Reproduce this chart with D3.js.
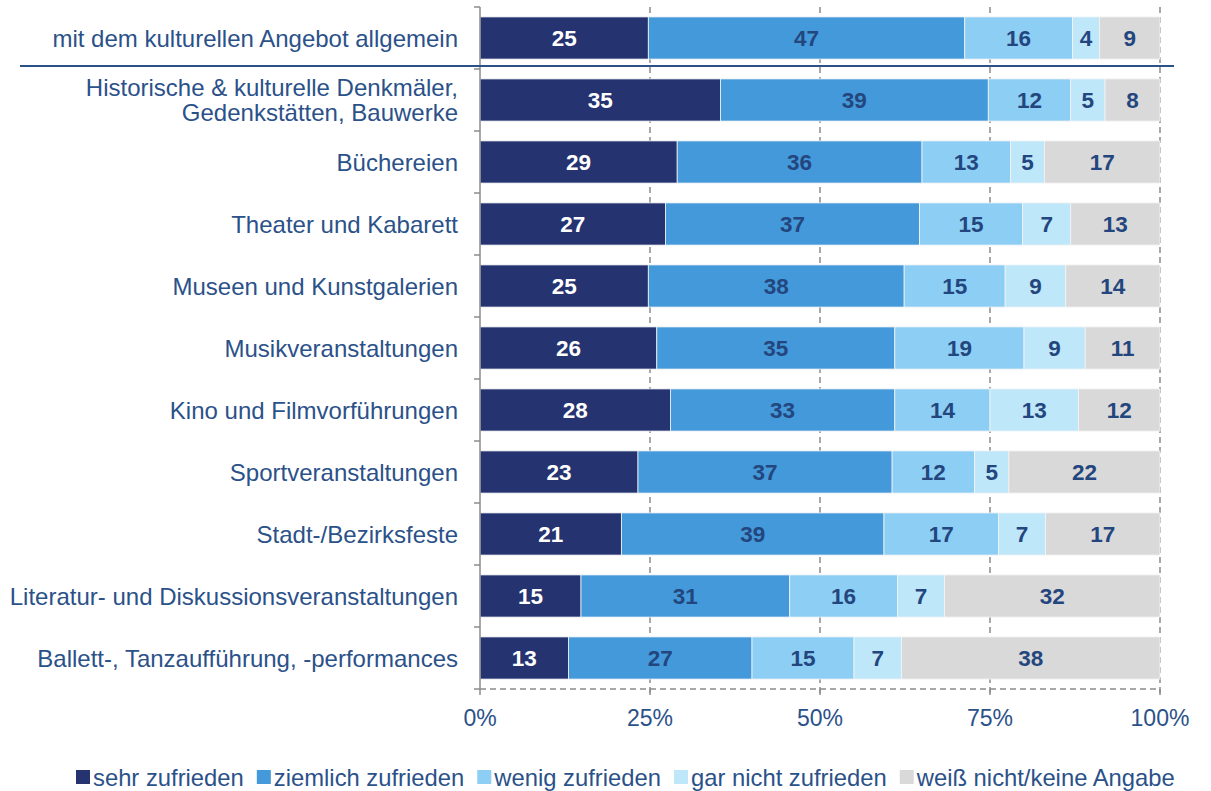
<!doctype html>
<html lang="de">
<head>
<meta charset="UTF-8">
<title>Zufriedenheit Kulturangebot</title>
<script src="https://cdn.jsdelivr.net/npm/d3@7"></script>
<style>
    html, body { margin: 0; padding: 0; background: #fff; overflow: hidden; }
    text { font-family: "Liberation Sans", Arial, sans-serif; }
</style>
</head>
<body>
<svg id="chart" width="1211" height="791"></svg>
<script>
    const categories = [
        "mit dem kulturellen Angebot allgemein",
        "Historische & kulturelle Denkmäler,|Gedenkstätten, Bauwerke",
        "Büchereien",
        "Theater und Kabarett",
        "Museen und Kunstgalerien",
        "Musikveranstaltungen",
        "Kino und Filmvorführungen",
        "Sportveranstaltungen",
        "Stadt-/Bezirksfeste",
        "Literatur- und Diskussionsveranstaltungen",
        "Ballett-, Tanzaufführung, -performances"
    ];
    const seriesNames = ["sehr zufrieden", "ziemlich zufrieden", "wenig zufrieden", "gar nicht zufrieden", "weiß nicht/keine Angabe"];
    const sehr = [25, 35, 29, 27, 25, 26, 28, 23, 21, 15, 13];
    const ziemlich = [47, 39, 36, 37, 38, 35, 33, 37, 39, 31, 27];
    const wenig = [16, 12, 13, 15, 15, 19, 14, 12, 17, 16, 15];
    const garNicht = [4, 5, 5, 7, 9, 9, 13, 5, 7, 7, 7];
    const weissNicht = [9, 8, 17, 13, 14, 11, 12, 22, 17, 32, 38];
    const tickLabels = ["0%", "25%", "50%", "75%", "100%"];

    const colors = ["#253370", "#4499DA", "#8DCEF4", "#BEE7FA", "#D9D9D9"];
    const labelColors = ["#ffffff", "#23467E", "#23467E", "#23467E", "#23467E"];
    const textBlue = "#2B5189";

    const svg = d3.select("#chart");
    const margin = {top: 7, left: 480, right: 51, bottom: 102};
    const width = 1211 - margin.left - margin.right;
    const height = 791 - margin.top - margin.bottom;

    const x = d3.scaleLinear().domain([0, 1]).range([0, width]);
    const y = d3.scaleBand().domain(d3.range(categories.length)).range([0, height]).paddingInner(0.32).paddingOuter(0.16);

    const g = svg.append("g").attr("transform", "translate(" + margin.left + "," + margin.top + ")");

    // rows normalised to 100%
    const series = [sehr, ziemlich, wenig, garNicht, weissNicht];
    const rows = categories.map((c, i) => {
        const vals = series.map(s => s[i]);
        const total = d3.sum(vals);
        let acc = 0;
        return vals.map((v, k) => {
            const seg = {row: i, k: k, v: v, x0: acc / total, x1: (acc + v) / total};
            acc += v;
            return seg;
        });
    });

    // gridlines
    g.selectAll(".grid")
        .data([0.25, 0.5, 0.75, 1])
        .enter().append("line")
        .attr("x1", d => x(d)).attr("x2", d => x(d))
        .attr("y1", 0).attr("y2", height + 6)
        .attr("stroke", "#8c8c8c").attr("stroke-width", 1.5)
        .attr("stroke-dasharray", "6,4");

    // bars
    const rowG = g.selectAll(".row").data(rows).enter().append("g")
        .attr("transform", (d, i) => "translate(0," + y(i) + ")");

    rowG.selectAll("rect").data(d => d).enter().append("rect")
        .attr("x", d => x(d.x0))
        .attr("width", d => x(d.x1) - x(d.x0))
        .attr("height", y.bandwidth())
        .attr("fill", d => colors[d.k])
        .attr("stroke", "#f4f4f4").attr("stroke-width", 0.8);

    rowG.selectAll("text").data(d => d).enter().append("text")
        .attr("x", d => x((d.x0 + d.x1) / 2))
        .attr("y", y.bandwidth() / 2)
        .attr("dy", "0.36em")
        .attr("text-anchor", "middle")
        .attr("font-weight", "bold")
        .attr("font-size", 22.5)
        .attr("fill", d => labelColors[d.k])
        .text(d => d.v);

    // y axis line and ticks between categories
    g.append("line").attr("x1", 0).attr("x2", 0).attr("y1", 0).attr("y2", height)
        .attr("stroke", "#8c8c8c").attr("stroke-width", 1.5);
    g.selectAll(".ytick").data(d3.range(categories.length + 1)).enter().append("line")
        .attr("x1", -6).attr("x2", 0)
        .attr("y1", d => d * height / categories.length)
        .attr("y2", d => d * height / categories.length)
        .attr("stroke", "#8c8c8c").attr("stroke-width", 1.5);

    // x axis (dashed)
    g.append("line").attr("x1", 0).attr("x2", width).attr("y1", height).attr("y2", height)
        .attr("stroke", "#8c8c8c").attr("stroke-width", 1.5).attr("stroke-dasharray", "6,4");
    g.selectAll(".xtick").data([0, 0.25, 0.5, 0.75, 1]).enter().append("line")
        .attr("x1", d => x(d)).attr("x2", d => x(d))
        .attr("y1", height).attr("y2", height + 6)
        .attr("stroke", "#8c8c8c").attr("stroke-width", 1.5);
    g.selectAll(".xlabel").data(tickLabels).enter().append("text")
        .attr("x", (d, i) => x(i / 4))
        .attr("y", height + 37)
        .attr("text-anchor", "middle")
        .attr("font-size", 23)
        .attr("fill", textBlue)
        .text(d => d);

    // category labels
    const catText = g.selectAll(".cat").data(categories).enter().append("text")
        .attr("x", -22)
        .attr("y", (d, i) => y(i) + y.bandwidth() / 2)
        .attr("text-anchor", "end")
        .attr("font-size", 24)
        .attr("fill", textBlue);
    catText.each(function(d) {
        const parts = d.split("|");
        const t = d3.select(this);
        parts.forEach((p, j) => {
            t.append("tspan")
                .attr("x", -22)
                .attr("dy", j === 0 ? (0.36 - (parts.length - 1) * 0.53) + "em" : "1.06em")
                .text(p);
        });
    });

    // separator under the first row
    svg.append("line")
        .attr("x1", 20).attr("x2", 1174)
        .attr("y1", margin.top + height / categories.length - 3)
        .attr("y2", margin.top + height / categories.length - 3)
        .attr("stroke", "#2B5189").attr("stroke-width", 2);

    // legend
    const legend = svg.append("g").attr("transform", "translate(76,777)");
    let lx = 0;
    seriesNames.forEach((name, k) => {
        const item = legend.append("g").attr("transform", "translate(" + lx + ",0)");
        item.append("rect").attr("x", 0).attr("y", -7).attr("width", 14).attr("height", 14).attr("fill", colors[k]);
        const t = item.append("text").attr("x", 17).attr("y", 0).attr("dy", "0.36em")
            .attr("font-size", 23.8).attr("fill", textBlue).text(name);
        lx += 17 + t.node().getComputedTextLength() + 13;
    });
</script>
</body>
</html>
